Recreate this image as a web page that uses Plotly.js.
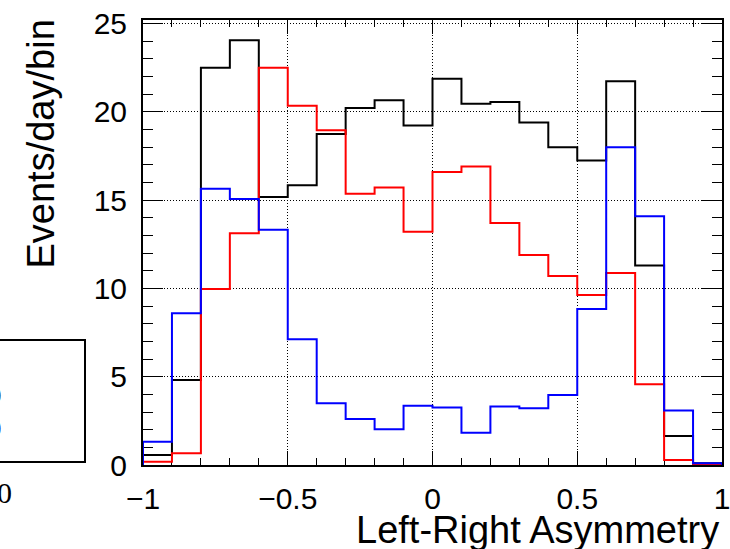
<!DOCTYPE html>
<html>
<head>
<meta charset="utf-8">
<script src="https://cdn.plot.ly/plotly-3.0.1.min.js"></script>
<style>html,body{margin:0;padding:0;background:#fff;}#chart{width:730px;height:549px;}</style>
</head>
<body>
<div id="chart"></div>
<script>
// Bin edges of the histogram (Left-Right Asymmetry)
const binEdges = [-1.0, -0.9, -0.8, -0.7, -0.6, -0.5, -0.4, -0.3, -0.2, -0.1, 0.0,
                  0.1, 0.2, 0.3, 0.4, 0.5, 0.6, 0.7, 0.8, 0.9, 1.0];
// Events/day/bin for each bin
const blackValues = [0.57, 4.82, 22.49, 24.05, 15.18, 15.84, 18.75, 20.22, 20.65, 19.22,
                     21.88, 20.46, 20.56, 19.39, 17.99, 17.25, 21.73, 11.30, 1.64, 0.10];
const redValues   = [0.19, 0.66, 9.96, 13.13, 22.49, 20.35, 18.95, 15.36, 15.72, 13.21,
                     16.59, 16.91, 13.70, 11.89, 10.70, 9.62, 10.87, 4.57, 0.28, 0.00];
const blueValues  = [1.32, 8.60, 15.65, 15.06, 13.32, 7.12, 3.50, 2.61, 2.02, 3.36,
                     3.25, 1.83, 3.31, 3.21, 3.97, 8.84, 17.99, 14.08, 3.08, 0.10];
const xTickVals = [-1, -0.5, 0, 0.5, 1];
const xTickText = ['\u22121', '\u22120.5', '0', '0.5', '1'];
const xTitle = "Left-Right Asymmetry";
const yTitle = "Events/day/bin";

function stepTrace(values, color) {
  const n = values.length;
  const xs = [binEdges[0]];
  const ys = [0];
  for (let i = 0; i < n; i++) { xs.push(binEdges[i]); ys.push(values[i]); }
  xs.push(binEdges[n]); ys.push(values[n - 1]);
  xs.push(binEdges[n]); ys.push(0);
  return {x: xs, y: ys, type: 'scatter', mode: 'lines',
          line: {shape: 'hv', color: color, width: 2}, hoverinfo: 'skip'};
}

const data = [
  stepTrace(blackValues, '#000000'),
  stepTrace(redValues, '#ff0000'),
  stepTrace(blueValues, '#0000ff')
];

const L = 143, R = 8, T = 20, B = 84, W = 730, H = 549;
const pw = W - L - R, ph = H - T - B;
const px = v => (v - L) / pw;
const py = v => (H - B - v) / ph;

const axisCommon = {
  ticks: 'inside', tickcolor: '#000', tickwidth: 1,
  mirror: 'allticks', showline: true, linewidth: 2, linecolor: '#000',
  showgrid: true, gridcolor: '#000', gridwidth: 1, griddash: '1px,2px',
  zeroline: false, layer: 'below traces', ticklabeloverflow: 'allow',
  tickfont: {size: 30, color: '#000', family: 'Liberation Sans, Arial, sans-serif'}
};

const layout = {
  width: W, height: H,
  margin: {l: L, r: R, t: T, b: B, pad: 0},
  paper_bgcolor: '#ffffff', plot_bgcolor: '#ffffff',
  showlegend: false,
  font: {family: 'Liberation Sans, Arial, sans-serif', color: '#000'},
  xaxis: Object.assign({}, axisCommon, {
    range: [-1, 1], tickmode: 'array', tickvals: xTickVals, ticktext: xTickText,
    ticklen: 14, ticklabelstandoff: 6,
    minor: {dtick: 0.1, tick0: -1, ticks: 'inside', ticklen: 7, tickcolor: '#000', tickwidth: 1, showgrid: false}
  }),
  yaxis: Object.assign({}, axisCommon, {
    range: [0, 25.2], tick0: 0, dtick: 5, ticklen: 20, ticklabelstandoff: 8,
    minor: {dtick: 1, ticks: 'inside', ticklen: 10, tickcolor: '#000', tickwidth: 1, showgrid: false}
  }),
  shapes: [
    {type: 'rect', xref: 'paper', yref: 'paper',
     x0: px(-20), x1: px(85), y0: py(462), y1: py(340),
     line: {color: '#000', width: 2}, fillcolor: 'rgba(0,0,0,0)'}
  ],
  annotations: [
    {text: xTitle, xref: 'paper', yref: 'paper', x: px(721), y: py(530),
     xanchor: 'right', yanchor: 'middle', showarrow: false,
     font: {size: 38, color: '#000'}},
    {text: yTitle, xref: 'paper', yref: 'paper', x: px(40), y: py(144.5),
     xanchor: 'center', yanchor: 'middle', textangle: -90, showarrow: false,
     font: {size: 38, color: '#000'}},
    {text: '0', xref: 'paper', yref: 'paper', x: px(3), y: py(396),
     xanchor: 'right', yanchor: 'middle', showarrow: false,
     font: {size: 24, color: '#000'}},
    {text: '0', xref: 'paper', yref: 'paper', x: px(3), y: py(428),
     xanchor: 'right', yanchor: 'middle', showarrow: false,
     font: {size: 24, color: '#0000ff'}},
    {text: '0', xref: 'paper', yref: 'paper', x: px(14), y: py(492),
     xanchor: 'right', yanchor: 'middle', showarrow: false,
     font: {size: 30, color: '#000', family: 'Liberation Serif, Times New Roman, serif'}}
  ]
};

Plotly.newPlot('chart', data, layout, {displayModeBar: false, staticPlot: true});
</script>
</body>
</html>
